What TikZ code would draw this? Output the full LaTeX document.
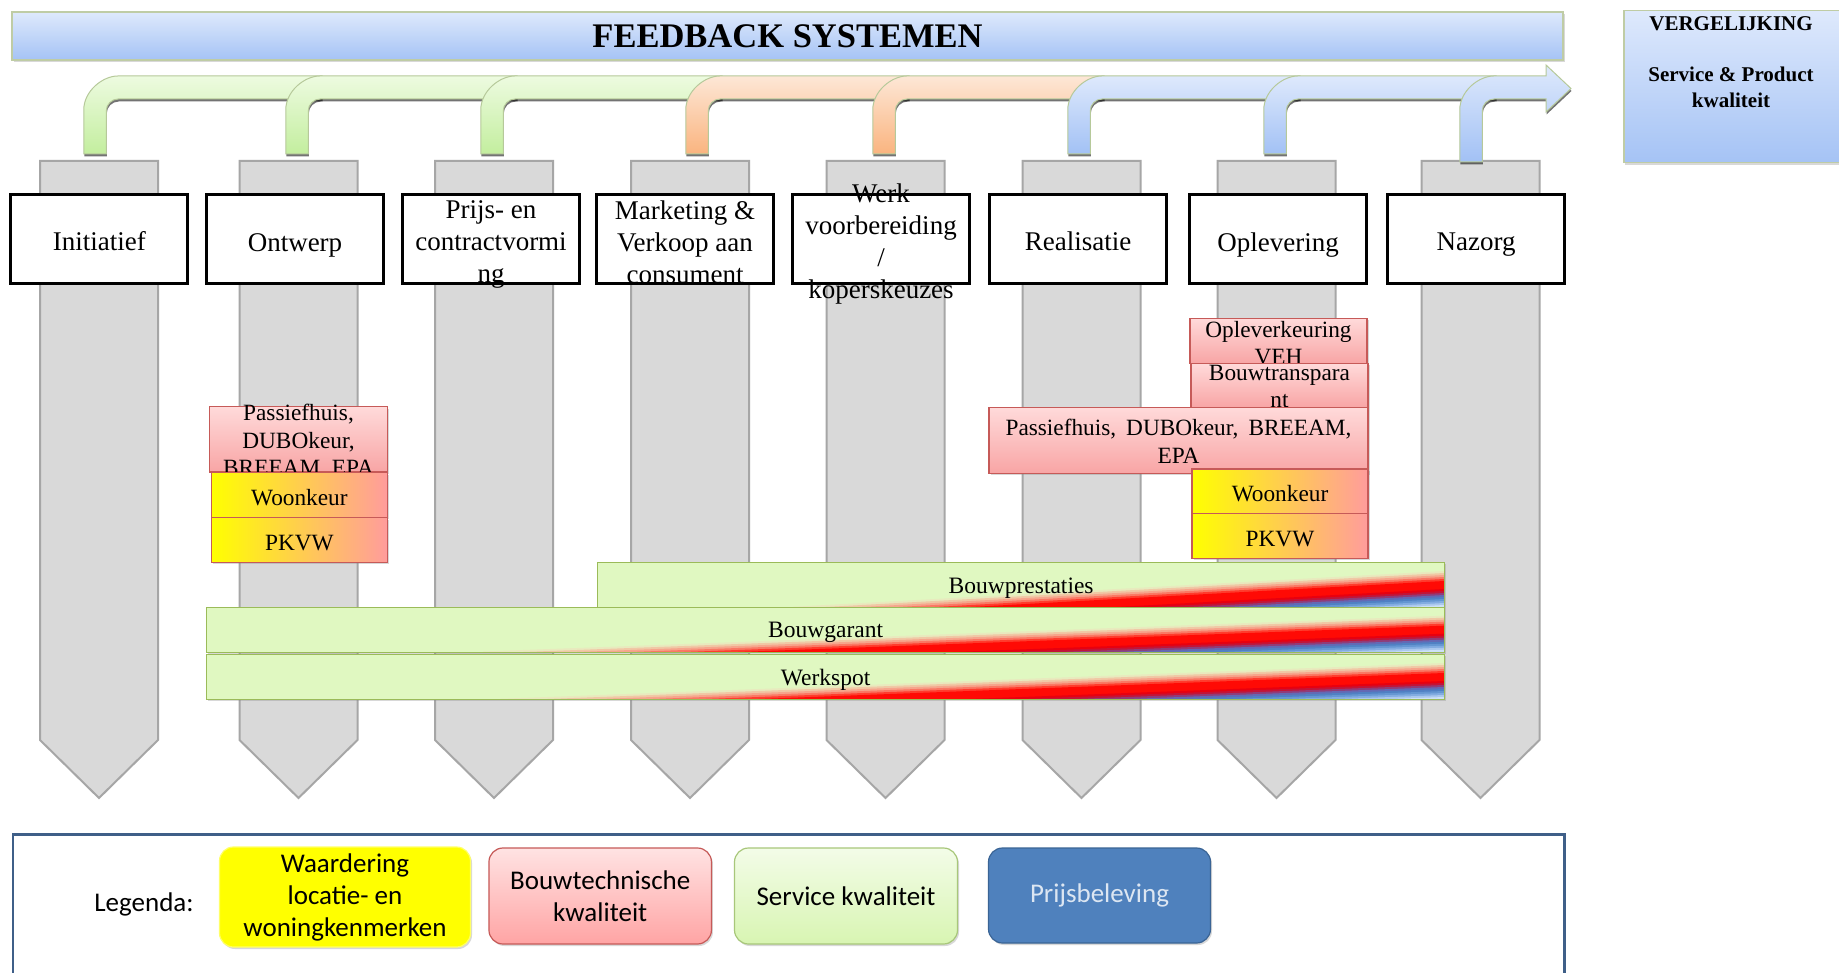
\documentclass[tikz,border=0pt]{standalone}
\usepackage{fontspec}
\setmainfont{Liberation Serif}
\newfontfamily\calibri{Carlito}
\usepackage{tikz}
\usetikzlibrary{shadows}
\def\stemhw{11.25}
\def\bandtop{76}
\def\bandbot{99}
\def\barright{1444}
\def\lastcx{1471}

\definecolor{pillarfill}{HTML}{D9D9D9}
\definecolor{pillarline}{HTML}{A6A6A6}
\definecolor{titletop}{HTML}{DEE9FC}
\definecolor{titlebot}{HTML}{A5C3F5}
\definecolor{titleline}{HTML}{BFCCA5}
\definecolor{greentop}{HTML}{EDFBE0}
\definecolor{greenbot}{HTML}{C3EE9E}
\definecolor{orangetop}{HTML}{FDE7D6}
\definecolor{orangebot}{HTML}{FAB47F}
\definecolor{bluetop}{HTML}{DEE9FC}
\definecolor{bluebot}{HTML}{A2C1F5}
\definecolor{arrowline}{HTML}{B6C99A}
\definecolor{pinktop}{HTML}{FFDADA}
\definecolor{pinkbot}{HTML}{F8A5A5}
\definecolor{pinkline}{HTML}{C65A58}
\definecolor{keuryellow}{HTML}{FFFF00}
\definecolor{keurmid}{HTML}{FFC27C}
\definecolor{keursalmon}{HTML}{FF9C9C}
\definecolor{barfill}{HTML}{E0F8C1}
\definecolor{barline}{HTML}{9BBB59}
\definecolor{legpinktop}{HTML}{FFE3E3}
\definecolor{legpinkbot}{HTML}{FFA4A4}
\definecolor{leggreentop}{HTML}{F3FCE8}
\definecolor{leggreenbot}{HTML}{D8F5B2}
\definecolor{leggreenline}{HTML}{A8C77A}
\definecolor{prijsblue}{HTML}{4F81BD}
\definecolor{prijsline}{HTML}{3A6495}
\definecolor{prijstext}{HTML}{DCE6F2}
\definecolor{legendline}{HTML}{3F5F88}

\begin{document}
\begin{tikzpicture}[x=1pt,y=-1pt,inner sep=0pt]
            \tikzstyle{pillar}=[fill=pillarfill,draw=pillarline,line width=2pt]
            \tikzstyle{band}=[draw=arrowline,line width=1pt,drop shadow={opacity=0.55,fill=black,shadow xshift=0.5pt,shadow yshift=-2.5pt}]
            \tikzstyle{soft shadow}=[drop shadow={opacity=0.3,shadow xshift=1.5pt,shadow yshift=-2pt}]
            \tikzstyle{title}=[soft shadow,top color=titletop,bottom color=titlebot,draw=titleline,line width=1.5pt]
            \tikzstyle{stage}=[draw=black,fill=white,line width=3pt,minimum width=177pt,minimum height=89pt]
            \tikzstyle{stagetext}=[align=center,font=\fontsize{27}{32}\selectfont]
            \tikzstyle{techbox}=[soft shadow,top color=pinktop,bottom color=pinkbot,draw=pinkline,line width=1.2pt]
            \tikzstyle{keurbox}=[soft shadow,left color=keuryellow,middle color=keurmid,right color=keursalmon,draw=pinkline,line width=1.2pt,
                                 minimum width=176pt,minimum height=44.6pt,text height=20.4pt,text depth=0pt,font=\fontsize{23.3}{27}\selectfont]
            \tikzstyle{boxtext}=[align=center,font=\fontsize{23.3}{27.5}\selectfont]
            \tikzstyle{bar}=[soft shadow,anchor=north west,fill=barfill,minimum height=44.8pt]
            \tikzstyle{bar outline}=[anchor=north west,draw=barline,line width=1.3pt,minimum height=44.8pt,text height=16pt,text depth=0pt,font=\fontsize{23.5}{27}\selectfont]
            \tikzstyle{legbox}=[soft shadow,rounded corners=14pt,line width=1.2pt,align=center,font=\calibri\fontsize{27}{32}\selectfont]

            \useasboundingbox (0,0) rectangle (1839,973);
            \fill[white] (0,0) rectangle (1839,973);

            % Draw the grey phase pillars
            \foreach \cx in {99,298.5,494,690,885.5,1081.5,1276.5,1480.5}
                \draw[pillar] ({\cx-59},161) -- ({\cx+59},161) -- ({\cx+59},740) -- (\cx,798) -- ({\cx-59},740) -- cycle;

            % Feedback arrows, each one runs on under the next
            \foreach \cx/\xe/\ca/\cb in {95/322/greentop/greenbot, 297/517/greentop/greenbot, 492/722/greentop/greenbot,
                                          697/909/orangetop/orangebot, 884/1104/orangetop/orangebot,
                                          1079/1300/bluetop/bluebot, 1275/1496/bluetop/bluebot}
                \path[band,top color=\ca,bottom color=\cb]
                    ({\cx-\stemhw},154) -- ({\cx-\stemhw},{\bandtop+34})
                    .. controls ({\cx-\stemhw},{\bandtop+15}) and ({\cx-\stemhw+19},\bandtop) .. ({\cx-\stemhw+34},\bandtop)
                    -- (\xe,\bandtop) -- (\xe,\bandbot) -- ({\cx+\stemhw+12},\bandbot)
                    .. controls ({\cx+\stemhw+5.4},\bandbot) and ({\cx+\stemhw},{\bandbot+5.4}) .. ({\cx+\stemhw},{\bandbot+12})
                    -- ({\cx+\stemhw},154) -- cycle;

            \path[band,top color=bluetop,bottom color=bluebot]
                ({\lastcx-\stemhw},162) -- ({\lastcx-\stemhw},{\bandtop+34})
                .. controls ({\lastcx-\stemhw},{\bandtop+15}) and ({\lastcx-\stemhw+19},\bandtop) .. ({\lastcx-\stemhw+34},\bandtop)
                -- (1546,\bandtop) -- (1546,65) -- (1571,88.5) -- (1546,112) -- (1546,\bandbot) -- ({\lastcx+\stemhw+12},\bandbot)
                .. controls ({\lastcx+\stemhw+5.4},\bandbot) and ({\lastcx+\stemhw},{\bandbot+5.4}) .. ({\lastcx+\stemhw},{\bandbot+12})
                -- ({\lastcx+\stemhw},162) -- cycle;

            % Title and comparison box
            \node[title,minimum width=1551pt,minimum height=48pt,text height=23pt,text depth=0pt,font=\bfseries\fontsize{34.5}{38}\selectfont] (title) at (787.5,36) {FEEDBACK SYSTEMEN};
            \node[title,anchor=north west,minimum width=240pt,minimum height=152pt] (vergelijking) at (1623,10) {};
            \node[align=center,font=\bfseries\fontsize{21}{25.5}\selectfont] (vergelijking-text) at (1731,62) {VERGELIJKING\\[25.5pt]Service \& Product\\kwaliteit};

            % Phases
            \foreach \name/\x/\dy/\txt in {initiatief/99.3/2/{Initiatief}, ontwerp/295/5.5/{Ontwerp}, prijs/491/5/{Prijs- en\\contractvormi\\ng},
                                       marketing/685/3/{Marketing \&\\Verkoop aan\\consument}, werk/881/5/{Werk\\voorbereiding\\/\\koperskeuzes},
                                       realisatie/1078/2/{Realisatie}, oplevering/1278/5.5/{Oplevering}, nazorg/1476/5.5/{Nazorg}}
            {
                \node[stage] (\name) at (\x,239.5) {};
                \node[stagetext] (\name-text) at (\x,{239.5+\dy}) {\txt};
            }

            % Quality marks at Ontwerp
            \node[techbox,minimum width=178pt,minimum height=65.3pt] (passief-l) at (298.5,439.3) {};
            \node[boxtext] (passief-l-text) at (298.5,441.8) {Passiefhuis,\\DUBOkeur,\\BREEAM, EPA};
            \node[keurbox] (woonkeur-l) at (299.4,495) {Woonkeur};
            \node[keurbox] (pkvw-l) at (299.4,539.8) {PKVW};

            % Quality marks at Realisatie / Oplevering
            \node[techbox,minimum width=177pt,minimum height=45pt] (opkeur) at (1278.5,340.8) {};
            \node[boxtext] (opkeur-text) at (1278.5,343.3) {Opleverkeuring\\VEH};
            \node[techbox,minimum width=177pt,minimum height=44pt] (bouwtr) at (1279.5,385.3) {};
            \node[boxtext] (bouwtr-text) at (1279.5,386.5) {Bouwtranspara\\nt};
            \node[techbox,minimum width=379pt,minimum height=66pt] (passief-r) at (1178.5,440.3) {};
            \node[boxtext] (passief-r-text) at (1178.5,441.5) {Passiefhuis,\hspace{10pt}DUBOkeur,\hspace{10pt}BREEAM,\\EPA};
            \node[keurbox] (woonkeur-r) at (1280,491.3) {Woonkeur};
            \node[keurbox] (pkvw-r) at (1280,535.8) {PKVW};

            % Service bars with their price wedge
            \foreach \name/\xl/\yt/\xs/\txt in {bouwprestaties/597/562/793/Bouwprestaties, bouwgarant/206/606.7/483/Bouwgarant, werkspot/206/654/500/Werkspot}
            {
                \node[bar,minimum width={(\barright-\xl)*1pt}] (\name) at (\xl,\yt) {};
                \begin{scope}
                    \clip (\name.north west) rectangle (\name.south east);
                    \foreach \d/\cR/\cG/\cB in {0/232/234/190, 2/240/200/165, 4/246/165/140, 6/250/120/100, 8/255/60/45, 10/255/10/5,
                                                18/232/0/15, 20/195/20/55, 22/145/60/120, 24/100/105/180, 26/80/128/195,
                                                28/100/150/210, 30/130/172/225, 32/170/200/238, 34/205/225/248}
                    {
                        \definecolor{stripe}{RGB}{\cR,\cG,\cB}
                        \fill[stripe] (\xs,{\yt+44.8+\d}) -- (\barright,{\yt+9+\d}) -- (\barright,{\yt+90}) -- (\xs,{\yt+90}) -- cycle;
                    }
                \end{scope}
                \node[bar outline,minimum width={(\barright-\xl)*1pt}] (\name-text) at (\xl,\yt) {\txt};
            }

            % Legend
            \node[anchor=north west,draw=legendline,line width=2.5pt,minimum width=1551.5pt,minimum height=170pt] (legend) at (11.5,833) {};
            \node[font=\calibri\fontsize{27}{32}\selectfont] (legenda) at (144,904) {Legenda:};
            \node[legbox,fill=keuryellow,draw=keuryellow!60!white,minimum width=251pt,minimum height=100pt] (leg-locatie) at (345,897) {Waardering\\locatie- en\\woningkenmerken};
            \node[legbox,top color=legpinktop,bottom color=legpinkbot,draw=pinkline,minimum width=222.5pt,minimum height=96pt] (leg-bouwtech) at (600.2,896) {Bouwtechnische\\kwaliteit};
            \node[legbox,top color=leggreentop,bottom color=leggreenbot,draw=leggreenline,minimum width=223pt,minimum height=96pt] (leg-service) at (846,896) {Service kwaliteit};
            \node[legbox,fill=prijsblue,draw=prijsline,text=prijstext,minimum width=222pt,minimum height=95pt] (leg-prijs) at (1099.5,895.5) {Prijsbeleving};
\end{tikzpicture}
\end{document}
